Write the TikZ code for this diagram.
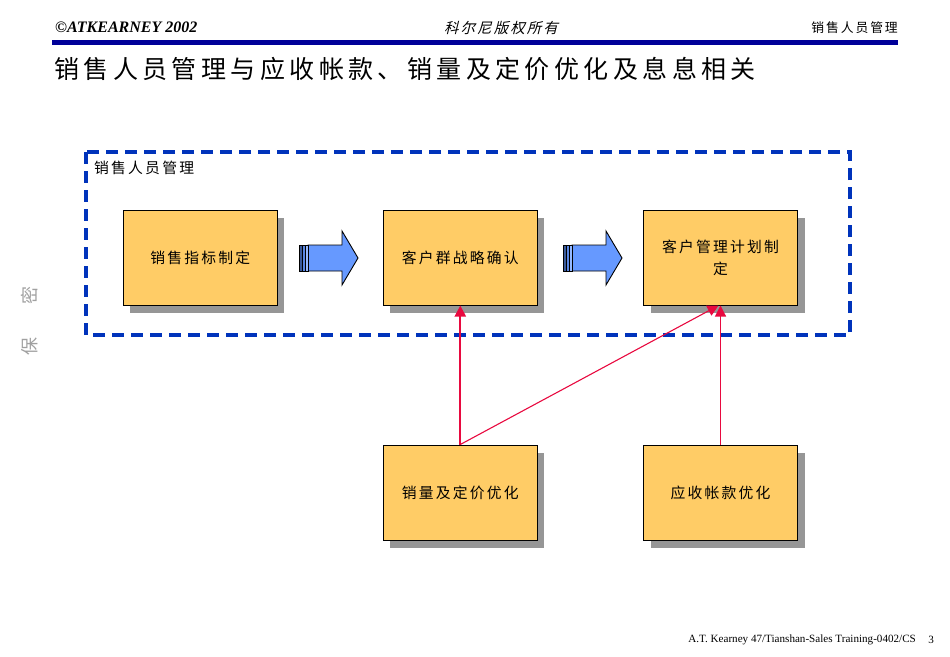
\documentclass[tikz,border=0pt]{standalone}
\usepackage{fontspec}
\setmainfont{Liberation Serif}
\newfontfamily\cjk{Noto Sans CJK SC}
\newfontfamily\cjksp[LetterSpace=15]{Noto Sans CJK SC}
\newfontfamily\cjkslant[FakeSlant=0.25,LetterSpace=14]{Noto Sans CJK SC}
\usetikzlibrary{calc,shadows,arrows.meta}
\definecolor{boxfill}{HTML}{FFCC66}
\definecolor{shadowgray}{HTML}{969696}
\definecolor{rulenavy}{HTML}{000099}
\definecolor{dashblue}{HTML}{0033BB}
\definecolor{linkred}{HTML}{E8093F}
\definecolor{arrowblue}{HTML}{6699FF}
\definecolor{stripe}{HTML}{3A5A9A}
\definecolor{secretgray}{HTML}{A0A0A0}
\tikzset{
  procbox/.style={draw=black,line width=1pt,fill=boxfill,minimum width=154pt,minimum height=95pt,
    inner sep=0pt,text width=125pt,align=center,font=\cjksp\fontsize{14.8}{22}\selectfont,
    drop shadow={shadow xshift=7pt,shadow yshift=-8pt,fill=shadowgray,opacity=1}},
  link/.style={draw=linkred,-{Triangle[length=11pt,width=11pt,fill=linkred]}},
  plainlabel/.style={inner sep=0pt,text=black},
  pics/blockarrow/.style={code={
    \draw[fill=arrowblue,draw=black,line width=.9pt] (9,-13) -- (43,-13) -- (43,-27) -- (59,0) -- (43,27) -- (43,13) -- (9,13) -- cycle;
    \draw[fill=stripe,draw=black,line width=.6pt] (0,-13) rectangle (3,13);
    \draw[fill=arrowblue!70!stripe,draw=black,line width=.6pt] (3,-13) rectangle (6,13);
    \draw[fill=arrowblue!70,draw=black,line width=.6pt] (6,-13) rectangle (9,13);
  }}
}
\begin{document}
\begin{tikzpicture}[x=1pt,y=-1pt]
\useasboundingbox (0,0) rectangle (950,656);
% header
\node[plainlabel,anchor=west] (hleft) at (55,27.5) {\fontsize{16}{16}\selectfont\bfseries\itshape ©ATKEARNEY 2002};
\node[plainlabel] (hmid) at (501,28) {\cjkslant\fontsize{14.5}{15}\selectfont 科尔尼版权所有};
\node[plainlabel,anchor=east] (hright) at (898,28) {\cjksp\fontsize{12.8}{15}\selectfont 销售人员管理};
\fill[rulenavy] (52,40) rectangle (898,44.5);
\node[plainlabel,anchor=west] (title) at (54,69) {\cjk\fontsize{25}{28}\selectfont\addfontfeature{LetterSpace=17.7}销售人员管理与应收帐款、销量及定价优化及息息相关};
% dashed frame
\draw[dashblue,line width=3.2pt,dash pattern=on 12pt off 7pt] (86,152) rectangle (850,335);
\node[plainlabel,anchor=west] (frame) at (94,168) {\cjksp\fontsize{14.8}{16}\selectfont 销售人员管理};
% boxes
\node[procbox] (b1) at (200.3,257.5) {销售指标制定};
\node[procbox] (b2) at (460.3,257.5) {客户群战略确认};
\node[procbox] (b3) at (720.5,257.5) {客户管理计划制\\定};
\node[procbox] (b4) at (460.3,492.5) {销量及定价优化};
\node[procbox] (b5) at (720.5,492.5) {应收帐款优化};
% block arrows
\pic at (299,258) {blockarrow};
\pic at (563,258) {blockarrow};
% red links
\draw[link,line width=2.2pt] (b4.north) -- (b2.south);
\draw[link,line width=1.1pt] (b4.north) -- ($(b3.south)+(-2,0)$);
\draw[link,line width=1.1pt] (b5.north) -- (b3.south);
% side
\node[plainlabel,rotate=90,text=secretgray] (secret1) at (30,295) {\cjk\fontsize{18}{18}\selectfont 密};
\node[plainlabel,rotate=90,text=secretgray] (secret2) at (30,346) {\cjk\fontsize{18}{18}\selectfont 保};
% footer
\node[plainlabel,anchor=east] (foot) at (916,639.5) {\fontsize{11.1}{12}\selectfont A.T. Kearney 47/Tianshan-Sales Training-0402/CS};
\node[plainlabel,anchor=east] (page) at (934,639.5) {\fontsize{11.1}{12}\selectfont 3};
\end{tikzpicture}
\end{document}
